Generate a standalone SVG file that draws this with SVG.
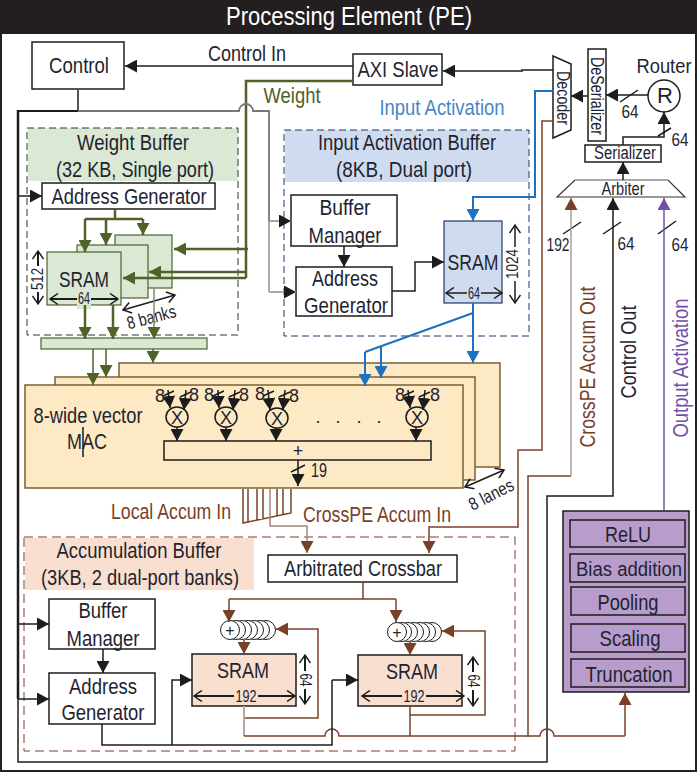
<svg xmlns="http://www.w3.org/2000/svg" width="697" height="772" viewBox="0 0 697 772">
<style>
text{font-family:"Liberation Sans",Arial,sans-serif;fill:#1f2430;font-size:22px;text-anchor:middle}
.s{font-size:18px}.t{font-size:16px}
.box{fill:#fff;stroke:#1c1c1c;stroke-width:1.5}
.b{fill:none;stroke:#1c1c1c;stroke-width:1.5}
.thick{fill:none;stroke:#1c1c1c;stroke-width:2.5}
.g{fill:none;stroke:#4f6228;stroke-width:2.5}
.gl{fill:none;stroke:#4f6228;stroke-width:1.5}
.br{fill:none;stroke:#7a4027;stroke-width:1.5}
.brl{fill:none;stroke:#b39a90;stroke-width:1.5}
.blu{fill:none;stroke:#1f70c0;stroke-width:2}
.pu{fill:none;stroke:#7050a8;stroke-width:1.5}
.gf{fill:#dae8d4;stroke:#4f6228;stroke-width:1.2}
.bf{fill:#cfdbee;stroke:#1f3864;stroke-width:1.2}
.of{fill:#fde9c4;stroke:#7a6030;stroke-width:1.5}
.pf{fill:#f9dfcf;stroke:#1c1c1c;stroke-width:1.5}
.pb{fill:#b89ccb;stroke:#1c1c1c;stroke-width:1.5}
.dim{fill:none;stroke:#1c1c1c;stroke-width:1.5;marker-start:url(#o);marker-end:url(#o)}
.dimt{fill:none;stroke:#1c1c1c;stroke-width:2;marker-start:url(#o);marker-end:url(#o)}
.ar{marker-end:url(#k)}.arg{marker-end:url(#mg)}.arb{marker-end:url(#mb)}.arl{marker-end:url(#ml)}.arp{marker-end:url(#mp)}
.circ{fill:#fff;stroke:#1c1c1c;stroke-width:1}
</style>
<defs>
<marker id="k" markerUnits="userSpaceOnUse" markerWidth="13" markerHeight="13" refX="12" refY="6.5" orient="auto"><path d="M0 0L12 6.5L0 13Z" fill="#1c1c1c"/></marker>
<marker id="mg" markerUnits="userSpaceOnUse" markerWidth="13" markerHeight="13" refX="12" refY="6.5" orient="auto"><path d="M0 0L12 6.5L0 13Z" fill="#4f6228"/></marker>
<marker id="mb" markerUnits="userSpaceOnUse" markerWidth="13" markerHeight="13" refX="12" refY="6.5" orient="auto"><path d="M0 0L12 6.5L0 13Z" fill="#7a4027"/></marker>
<marker id="ml" markerUnits="userSpaceOnUse" markerWidth="13" markerHeight="13" refX="12" refY="6.5" orient="auto"><path d="M0 0L12 6.5L0 13Z" fill="#1f70c0"/></marker>
<marker id="mp" markerUnits="userSpaceOnUse" markerWidth="13" markerHeight="13" refX="12" refY="6.5" orient="auto"><path d="M0 0L12 6.5L0 13Z" fill="#7050a8"/></marker>
<marker id="o" markerUnits="userSpaceOnUse" markerWidth="12" markerHeight="12" refX="10" refY="6" orient="auto-start-reverse"><path d="M2 0.5L10 6L2 11.5" fill="none" stroke="#1c1c1c" stroke-width="1.5"/></marker>
</defs>
<rect width="697" height="772" fill="#fff"/>
<rect x="1" y="1" width="695" height="770" fill="none" stroke="#222" stroke-width="2"/>
<g id="title"><rect x="0" y="0" width="697" height="34" fill="#231f20"/><text x="349" y="25" textLength="246" lengthAdjust="spacingAndGlyphs" style="fill:#fff;font-size:25px">Processing Element (PE)</text></g>

<g id="buffers-bg">
<rect x="28" y="128" width="210" height="53" fill="#dae8d4"/>
<rect x="285" y="130" width="244" height="52" fill="#cfdbee"/>
<rect x="25" y="538" width="229" height="52" fill="#f9dfcf"/>
</g>

<g id="control"><rect class="box" x="32" y="42" width="92" height="47"/><text x="79" y="73" textLength="60" lengthAdjust="spacingAndGlyphs">Control</text></g>
<g id="axi-slave"><rect class="box" x="353" y="54" width="89" height="31"/><text x="398" y="77" textLength="81" lengthAdjust="spacingAndGlyphs">AXI Slave</text></g>

<g id="weight-buffer">
<rect x="27" y="128" width="211" height="207" fill="none" stroke="#333" stroke-width="1" stroke-dasharray="7 4"/>
<text x="133" y="150" textLength="112" lengthAdjust="spacingAndGlyphs">Weight Buffer</text>
<text x="135" y="177" textLength="158" lengthAdjust="spacingAndGlyphs">(32 KB, Single port)</text>
<rect class="box" x="42" y="183" width="173" height="26"/>
<text x="129" y="204" textLength="155" lengthAdjust="spacingAndGlyphs">Address Generator</text>
<rect class="gf" x="115" y="235" width="57" height="53"/>
<rect class="gf" x="77" y="245" width="71" height="53"/>
<rect class="gf" x="47" y="252" width="74" height="53"/>
<text x="84" y="287" textLength="50" lengthAdjust="spacingAndGlyphs">SRAM</text>
<path class="dimt" d="M50 299H118"/>
<rect x="77" y="289" width="14" height="20" fill="#dae8d4"/>
<text class="t" x="84" y="304" textLength="12" lengthAdjust="spacingAndGlyphs">64</text>
<path class="dimt" d="M38 251V304"/>
<rect x="31" y="266" width="12" height="26" fill="#fff"/>
<text class="t" transform="translate(43 279) rotate(-90)" textLength="22" lengthAdjust="spacingAndGlyphs">512</text>
<path class="dim" d="M123 310L175 295"/>
<text class="s" transform="translate(153 323) rotate(-15)" textLength="50" lengthAdjust="spacingAndGlyphs">8 banks</text>
</g>
<g id="weight-bar"><rect class="gf" x="41" y="338" width="166" height="11"/></g>

<g id="input-activation-buffer">
<rect x="284" y="130" width="245" height="206" fill="none" stroke="#1f3864" stroke-width="1" stroke-dasharray="7 4"/>
<text x="407" y="150" textLength="178" lengthAdjust="spacingAndGlyphs">Input Activation Buffer</text>
<text x="404" y="177" textLength="136" lengthAdjust="spacingAndGlyphs">(8KB, Dual port)</text>
<rect class="box" x="291" y="195" width="106" height="51"/>
<text x="345" y="215" textLength="51" lengthAdjust="spacingAndGlyphs">Buffer</text>
<text x="345" y="243" textLength="73" lengthAdjust="spacingAndGlyphs">Manager</text>
<rect class="box" x="296" y="267" width="96" height="49"/>
<text x="345" y="286" textLength="66" lengthAdjust="spacingAndGlyphs">Address</text>
<text x="346" y="313" textLength="84" lengthAdjust="spacingAndGlyphs">Generator</text>
<rect class="bf" x="444" y="221" width="58" height="82"/>
<text x="473" y="270" textLength="51" lengthAdjust="spacingAndGlyphs">SRAM</text>
<path class="dim" d="M446 293H502"/>
<rect x="467" y="284" width="14" height="18" fill="#cfdbee"/>
<text class="t" x="474" y="299" textLength="12" lengthAdjust="spacingAndGlyphs">64</text>
<path class="dim" d="M515 225V303"/>
<rect x="506" y="247" width="14" height="34" fill="#fff"/>
<text class="t" transform="translate(518 264) rotate(-90)" textLength="30" lengthAdjust="spacingAndGlyphs">1024</text>
</g>

<g id="mac">
<rect class="of" x="119" y="363" width="381" height="104"/>
<rect class="of" x="55" y="377" width="420" height="103"/>
<rect class="of" x="25" y="385" width="438" height="103"/>
<text x="88" y="423" textLength="109" lengthAdjust="spacingAndGlyphs">8-wide vector</text>
<text x="87" y="449" textLength="40" lengthAdjust="spacingAndGlyphs">MAC</text>
<path class="b" d="M83 427V457" stroke-width="1"/>
<path class="b ar" d="M168 390L170 408"/><path class="b ar" d="M186 390L184 410"/>
<path class="b ar" d="M218 390L219 408"/><path class="b ar" d="M235 390L233 410"/>
<path class="b ar" d="M268 390L270 410"/><path class="b ar" d="M285 390L283 410"/>
<path class="b ar" d="M408 390L410 408"/><path class="b ar" d="M425 390L423 410"/>
<path class="b" d="M163 396L174 391M180 397L191 392M213 396L224 391M229 397L240 392M263 396L274 391M279 397L290 392M403 396L414 391M419 397L430 392"/>
<ellipse class="b" cx="177" cy="417" rx="11" ry="10"/><ellipse class="b" cx="226" cy="417" rx="11" ry="10"/><ellipse class="b" cx="277" cy="418" rx="11" ry="10"/><ellipse class="b" cx="417" cy="417" rx="11" ry="10"/>
<text class="s" x="177" y="424">X</text><text class="s" x="226" y="424">X</text><text class="s" x="277" y="425">X</text><text class="s" x="417" y="424">X</text>
<text class="s" x="160" y="402">8</text><text class="s" x="194" y="401">8</text><text class="s" x="209" y="401">8</text><text class="s" x="244" y="401">8</text><text class="s" x="260" y="400">8</text><text class="s" x="294" y="402">8</text><text class="s" x="400" y="401">8</text><text class="s" x="435" y="401">8</text>
<path class="b ar" d="M177 427V441"/><path class="b ar" d="M226 427V441"/><path class="b ar" d="M276 428V441"/><path class="b ar" d="M416 427V441"/>
<text class="s" x="318" y="423">.</text><text class="s" x="338" y="423">.</text><text class="s" x="359" y="423">.</text><text class="s" x="379" y="423">.</text>
<rect x="164" y="441" width="267" height="19" fill="#fde9c4" stroke="#1c1c1c" stroke-width="1.5"/>
<text class="s" x="298" y="457">+</text>
<path class="b ar" d="M298 460V486"/>
<path class="b" d="M291 472L305 465"/>
<text x="319" y="477" style="font-size:20px" textLength="16" lengthAdjust="spacingAndGlyphs">19</text>
<path class="dim" d="M465 487L504 470"/>
<text class="s" transform="translate(494 500) rotate(-27)" textLength="48" lengthAdjust="spacingAndGlyphs">8 lanes</text>
</g>

<g id="accumulation-buffer">
<rect x="24" y="537" width="491" height="214" fill="none" stroke="#7a4027" stroke-width="1" stroke-dasharray="9 5"/>
<text x="139" y="558" textLength="165" lengthAdjust="spacingAndGlyphs">Accumulation Buffer</text>
<text x="140" y="585" textLength="198" lengthAdjust="spacingAndGlyphs">(3KB, 2 dual-port banks)</text>
<rect class="box" x="268" y="555" width="189" height="27"/>
<text x="363" y="576" textLength="158" lengthAdjust="spacingAndGlyphs">Arbitrated Crossbar</text>
<rect class="box" x="49" y="599" width="106" height="50"/>
<text x="103" y="618" textLength="49" lengthAdjust="spacingAndGlyphs">Buffer</text>
<text x="103" y="646" textLength="73" lengthAdjust="spacingAndGlyphs">Manager</text>
<rect class="box" x="49" y="673" width="106" height="51"/>
<text x="103" y="694" textLength="68" lengthAdjust="spacingAndGlyphs">Address</text>
<text x="103" y="720" textLength="83" lengthAdjust="spacingAndGlyphs">Generator</text>
<g id="adders-1"><circle class="circ" cx="266" cy="630" r="9.5"/><circle class="circ" cx="260" cy="630" r="9.5"/><circle class="circ" cx="254" cy="630" r="9.5"/><circle class="circ" cx="248" cy="630" r="9.5"/><circle class="circ" cx="242" cy="630" r="9.5"/><circle class="circ" cx="236" cy="630" r="9.5"/><circle class="circ" cx="230" cy="630" r="9.5"/><text class="t" x="230" y="636">+</text></g>
<g id="adders-2"><circle class="circ" cx="432" cy="632" r="9.5"/><circle class="circ" cx="426" cy="632" r="9.5"/><circle class="circ" cx="420" cy="632" r="9.5"/><circle class="circ" cx="414" cy="632" r="9.5"/><circle class="circ" cx="408" cy="632" r="9.5"/><circle class="circ" cx="402" cy="632" r="9.5"/><circle class="circ" cx="397" cy="632" r="9.5"/><text class="t" x="397" y="638">+</text></g>
<rect class="pf" x="192" y="654" width="104" height="52"/>
<text x="243" y="678" textLength="52" lengthAdjust="spacingAndGlyphs">SRAM</text>
<path class="dimt" d="M194 696H295"/>
<rect x="234" y="687" width="24" height="18" fill="#f9dfcf"/>
<text class="t" x="246" y="702" textLength="21" lengthAdjust="spacingAndGlyphs">192</text>
<path class="dimt" d="M305 655V704"/>
<rect x="297" y="671" width="16" height="18" fill="#fff"/>
<text class="t" transform="translate(300 680) rotate(90)" textLength="13" lengthAdjust="spacingAndGlyphs">64</text>
<rect class="pf" x="358" y="655" width="104" height="51"/>
<text x="412" y="679" textLength="52" lengthAdjust="spacingAndGlyphs">SRAM</text>
<path class="dimt" d="M362 696H464"/>
<rect x="402" y="687" width="24" height="18" fill="#f9dfcf"/>
<text class="t" x="414" y="702" textLength="21" lengthAdjust="spacingAndGlyphs">192</text>
<path class="dimt" d="M473 657V706"/>
<rect x="465" y="672" width="16" height="18" fill="#fff"/>
<text class="t" transform="translate(468 681) rotate(90)" textLength="13" lengthAdjust="spacingAndGlyphs">64</text>
</g>

<g id="post-processing">
<rect class="pb" x="563" y="511" width="126" height="181"/>
<rect class="pb" x="570" y="520" width="115" height="27"/><text x="628" y="542" textLength="46" lengthAdjust="spacingAndGlyphs">ReLU</text>
<rect class="pb" x="570" y="554" width="115" height="28"/><text x="629" y="576" textLength="106" lengthAdjust="spacingAndGlyphs" style="font-size:20px">Bias addition</text>
<rect class="pb" x="571" y="587" width="114" height="28"/><text x="628" y="610" textLength="61" lengthAdjust="spacingAndGlyphs">Pooling</text>
<rect class="pb" x="571" y="624" width="114" height="28"/><text x="630" y="646" textLength="61" lengthAdjust="spacingAndGlyphs">Scaling</text>
<rect class="pb" x="571" y="659" width="114" height="28"/><text x="629" y="682" textLength="87" lengthAdjust="spacingAndGlyphs">Truncation</text>
</g>

<g id="decoder"><path d="M553 56L571 64V130L553 138Z" class="box"/><text class="s" transform="translate(557 98) rotate(90)" textLength="54" lengthAdjust="spacingAndGlyphs">Decoder</text></g>
<g id="deserializer"><rect class="box" x="588" y="49" width="18" height="92"/><text class="s" transform="translate(591 96) rotate(90)" textLength="78" lengthAdjust="spacingAndGlyphs">DeSerializer</text></g>
<g id="router"><circle class="box" cx="664" cy="96" r="16"/><text x="665" y="103">R</text><text x="664" y="73" textLength="55" lengthAdjust="spacingAndGlyphs" style="font-size:20px">Router</text></g>
<g id="serializer"><rect class="box" x="585" y="145" width="76" height="17"/><text class="s" x="625" y="159" textLength="62" lengthAdjust="spacingAndGlyphs">Serializer</text></g>
<g id="arbiter"><path d="M557 197L575 180H668L685 197Z" fill="#fff" stroke="#333" stroke-width="1.2"/><path d="M575 180H668" stroke="#aaa" stroke-width="2"/><text class="s" x="623" y="195" textLength="43" lengthAdjust="spacingAndGlyphs">Arbiter</text></g>

<g id="connectors">
<path class="b ar" d="M353 66H125"/>
<path class="g" d="M353 81H246V278"/>
<path class="g arg" d="M246 278H123"/>
<path class="g arg" d="M246 272H149"/>
<path class="g arg" d="M248 249H174"/>
<path class="b" d="M78 90V111"/>
<path d="M18 111H78" class="b" style="stroke-width:2"/>
<path d="M78 111H239A7 7 0 0 1 253 111H269V221" fill="none" stroke="#777" stroke-width="1.8"/>
<path d="M269 221V292" fill="none" stroke="#aaa" stroke-width="2"/>
<path d="M269 221H291" fill="none" stroke="#888" stroke-width="1.5" marker-end="url(#k)"/>
<path d="M269 292H296" fill="none" stroke="#aaa" stroke-width="2" marker-end="url(#k)"/>
<path class="thick" d="M18 110V699"/>
<path class="b ar" d="M18 699V762H547V496H613V198"/>
<path class="b ar" d="M18 196H42"/>
<path class="b ar" d="M18 624H49"/>
<path class="b ar" d="M18 699H49"/>
<path class="g" d="M115 209V219M85 219H143"/>
<path class="g arg" d="M85 219V252"/>
<path class="g arg" d="M106 219V245"/>
<path class="g arg" d="M143 219V235"/>
<path class="g arg" d="M85 305V339"/>
<path class="g arg" d="M113 305V339"/>
<path d="M154 288V339" fill="none" stroke="#7d8c66" stroke-width="1.5" marker-end="url(#mg)"/>
<path class="gl arg" d="M93 349V385"/>
<path class="gl arg" d="M106 349V377"/>
<path class="gl arg" d="M153 349V363"/>
<path class="b ar" d="M344 246V267"/>
<path class="b ar" d="M392 291H415V262H444"/>
<path class="blu arl" d="M553 91H535V197H473V221"/>
<path class="blu arl" d="M473 303V363"/>
<path class="blu" d="M473 313L365 352"/>
<path class="blu arl" d="M365 352V386"/>
<path class="blu arl" d="M381 347V378"/>
<path class="b ar" d="M553 70H522V71H443"/>
<path class="b ar" d="M588 96H571"/>
<path class="b ar" d="M648 95H606"/>
<path class="b" d="M620 102L638 90"/>
<path class="b ar" d="M623 145V137H664V112"/>
<path class="b" d="M658 136L671 128"/>
<path class="b ar" d="M623 180V162"/>
<path class="b" d="M563 234L581 222M603 234L621 222M658 234L676 221"/>
<path class="br arb" d="M553 121H542V450H518V527H429V553"/>
<path class="br" d="M571 476H528V737"/>
<path class="brl arb" d="M571 476V198"/>
<path class="pu arp" d="M664 510V198"/>
<path class="br" d="M243 489V523L291 513V489M248 489V522M257 489V521M263 489V520M277 489V516M283 489V514"/>
<path d="M270 489V526H307V553" fill="none" stroke="#a3877a" stroke-width="1.5" marker-end="url(#mb)"/>
<path class="br" d="M363 582V599M229 599H396"/>
<path class="br arb" d="M229 599V622"/>
<path class="br arb" d="M396 599V622"/>
<path class="br arb" d="M244 640V654"/>
<path class="br arb" d="M410 641V655"/>
<path class="br arb" d="M244 718H318V629H276"/>
<path class="br arb" d="M410 715H485V631H442"/>
<path d="M244 706V736" fill="none" stroke="#b9a59d" stroke-width="2"/>
<path class="br" d="M244 736H325A7 7 0 0 1 339 736H540A7 7 0 0 1 554 736H625"/>
<path class="br arb" d="M625 736V693"/>
<path class="br" d="M410 706V736"/>
<path class="b ar" d="M103 649V673"/>
<path class="b" d="M102 724V745H332V680"/>
<path class="b ar" d="M332 680H358"/>
<path class="b ar" d="M172 745V680H192"/>
</g>

<g id="labels">
<text x="247" y="61" textLength="78" lengthAdjust="spacingAndGlyphs">Control In</text>
<text x="292" y="103" textLength="57" lengthAdjust="spacingAndGlyphs" style="fill:#4f6228">Weight</text>
<text x="442" y="115" textLength="125" lengthAdjust="spacingAndGlyphs" style="fill:#4a86c8">Input Activation</text>
<text x="630" y="118" class="s" textLength="17" lengthAdjust="spacingAndGlyphs">64</text>
<text x="680" y="146" class="s" textLength="17" lengthAdjust="spacingAndGlyphs">64</text>
<text x="558" y="251" class="s" textLength="23" lengthAdjust="spacingAndGlyphs">192</text>
<text x="626" y="250" class="s" textLength="17" lengthAdjust="spacingAndGlyphs">64</text>
<text x="680" y="251" class="s" textLength="17" lengthAdjust="spacingAndGlyphs">64</text>
<text transform="translate(595 367) rotate(-90)" textLength="161" lengthAdjust="spacingAndGlyphs" style="fill:#7a4027">CrossPE Accum Out</text>
<text transform="translate(636 352) rotate(-90)" textLength="93" lengthAdjust="spacingAndGlyphs">Control Out</text>
<text transform="translate(688 368) rotate(-90)" textLength="139" lengthAdjust="spacingAndGlyphs" style="fill:#7050a8">Output Activation</text>
<text x="171" y="519" textLength="120" lengthAdjust="spacingAndGlyphs" style="fill:#7a4027">Local Accum In</text>
<text x="377" y="522" textLength="148" lengthAdjust="spacingAndGlyphs" style="fill:#7a4027">CrossPE Accum In</text>
</g>
</svg>
